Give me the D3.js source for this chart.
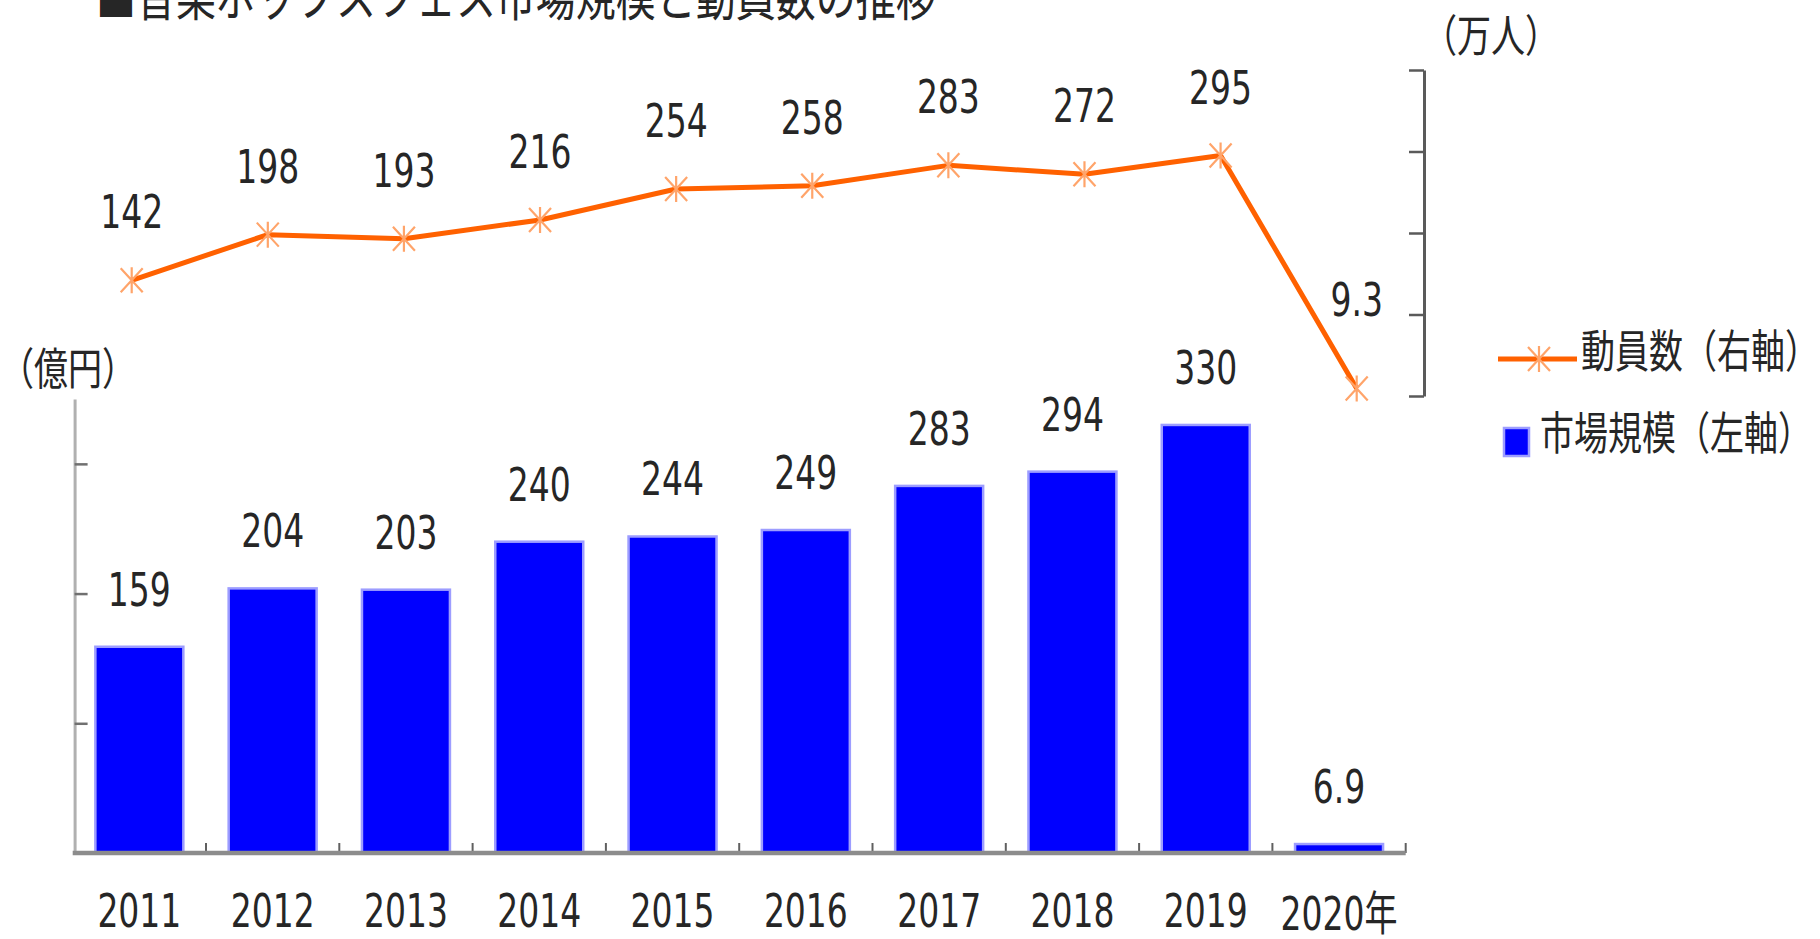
<!DOCTYPE html>
<html>
<head>
<meta charset="utf-8">
<script src="https://cdn.jsdelivr.net/npm/d3@7"></script>
<style>
  html, body { margin: 0; padding: 0; background: #fff; overflow: hidden; }
</style>
</head>
<body>
<div id="chart"></div>
<script>
// Dades
const years = ["2011", "2012", "2013", "2014", "2015", "2016", "2017", "2018", "2019", "2020年"];
const marketSize = [159, 204, 203, 240, 244, 249, 283, 294, 330, 6.9];   // 億円 (左軸)
const attendance = [142, 198, 193, 216, 254, 258, 283, 272, 295, 9.3];   // 万人 (右軸)
const leftTicks = [100, 200, 300];
const rightTicks = [0, 100, 200, 300, 400];

const W = 1820, H = 939;
const numFont = "'DejaVu Sans', 'Noto Sans CJK JP', sans-serif";
const cjkFont = "'Noto Sans CJK JP', sans-serif";
const textColor = "#262626";

const svg = d3.select("#chart")
    .append("svg")
        .attr("width", W)
        .attr("height", H);

// la imatge original està estirada verticalment
function label(x, y, txt, opts) {
    const o = Object.assign({ size: 33, sy: 1.4, anchor: "middle", font: numFont }, opts);
    return svg.append("text")
        .attr("transform", `translate(${x},${y}) scale(1,${o.sy})`)
        .attr("text-anchor", o.anchor)
        .style("font-family", o.font)
        .style("font-size", o.size + "px")
        .style("fill", textColor)
        .text(txt);
}

// Escales
const xBar = d3.scaleBand()
    .domain(years)
    .range([72.7, 1405.7])
    .paddingInner(0.34)
    .paddingOuter(0.17);

const xLine = d3.scalePoint()
    .domain(years)
    .range([131.7, 1356.7]);

const yLeft = d3.scaleLinear().domain([0, 350]).range([853, 399]);
const yRight = d3.scaleLinear().domain([0, 400]).range([396, 70]);

// Títol (retallat a dalt, com a l'original)
label(96, 16, "■音楽ポップスフェス市場規模と動員数の推移", { size: 40, sy: 1.3, anchor: "start", font: cjkFont });

// Barres
svg.selectAll(".bar")
    .data(years)
    .enter()
    .append("rect")
        .attr("class", "bar")
        .attr("x", d => xBar(d))
        .attr("y", (d, i) => yLeft(marketSize[i]))
        .attr("width", xBar.bandwidth())
        .attr("height", (d, i) => yLeft(0) - yLeft(marketSize[i]))
        .attr("fill", "#0000ff")
        .attr("stroke", "#9d9dff")
        .attr("stroke-width", 2.5);

// Eix esquerre
const leftAxis = svg.append("g")
    .attr("transform", "translate(74.6,0)")
    .call(d3.axisRight(yLeft).tickValues(leftTicks).tickSize(13).tickSizeOuter(0).tickFormat(""));
leftAxis.select(".domain").attr("stroke", "#b0b0b0").attr("stroke-width", 3);
leftAxis.selectAll(".tick line").attr("stroke", "#707070").attr("stroke-width", 2.5);

// Eix dret
const rightAxis = svg.append("g")
    .attr("transform", "translate(1424,0)")
    .call(d3.axisLeft(yRight).tickValues(rightTicks).tickSize(15).tickSizeOuter(0).tickFormat(""));
rightAxis.select(".domain").attr("stroke", "#5a5a5a").attr("stroke-width", 3);
rightAxis.selectAll(".tick line").attr("stroke", "#5a5a5a").attr("stroke-width", 2.5);

// Eix X (línia base i separadors)
const gap = (xBar.step() - xBar.bandwidth()) / 2;
const bounds = years.slice(1).map(d => xBar(d) - gap).concat([xBar(years[years.length - 1]) + xBar.bandwidth() + gap]);
svg.selectAll(".xtick")
    .data(bounds)
    .enter()
    .append("line")
        .attr("x1", d => d).attr("x2", d => d)
        .attr("y1", yLeft(0)).attr("y2", yLeft(0) - 10)
        .attr("stroke", "#606060")
        .attr("stroke-width", 2);
svg.append("line")
    .attr("x1", xBar.range()[0]).attr("x2", xBar.range()[1])
    .attr("y1", yLeft(0)).attr("y2", yLeft(0))
    .attr("stroke", "#8c8c8c")
    .attr("stroke-width", 4.5);

// Etiquetes de les barres
years.forEach((d, i) => {
    label(xBar(d) + xBar.bandwidth() / 2, yLeft(marketSize[i]) - 41, String(marketSize[i]));
});

// Etiquetes de l'eix X
years.forEach((d, i) => {
    const last = i === years.length - 1;
    label(xBar(d) + xBar.bandwidth() / 2, 927 + (last ? 3 : 0), d);
});

// Línia d'assistència
const line = d3.line()
    .x((d, i) => xLine(years[i]))
    .y(d => yRight(d));

svg.append("path")
    .datum(attendance)
    .attr("d", line)
    .attr("fill", "none")
    .attr("stroke", "#ff6100")
    .attr("stroke-width", 5)
    .attr("stroke-linejoin", "round");

const star = "M-11,-12L11,12M-11,12L11,-12M0,-13V13";
svg.selectAll(".marker")
    .data(attendance)
    .enter()
    .append("path")
        .attr("class", "marker")
        .attr("transform", (d, i) => `translate(${xLine(years[i])},${yRight(d)})`)
        .attr("d", star)
        .attr("fill", "none")
        .attr("stroke", "#ffa46a")
        .attr("stroke-width", 2.2);

attendance.forEach((v, i) => {
    const last = i === attendance.length - 1;
    label(xLine(years[i]), yRight(v) - 52 - (last ? 20 : 0), String(v));
});

// Unitats
label(1491, 52, "（万人）", { size: 34, sy: 1.3, font: cjkFont });
label(68, 385, "（億円）", { size: 34, sy: 1.3, font: cjkFont });

// Llegenda
svg.append("line")
    .attr("x1", 1498).attr("x2", 1577)
    .attr("y1", 359).attr("y2", 359)
    .attr("stroke", "#ff6100")
    .attr("stroke-width", 5);
svg.append("path")
    .attr("transform", "translate(1539,359)")
    .attr("d", star)
    .attr("fill", "none")
    .attr("stroke", "#ffa46a")
    .attr("stroke-width", 2.2);
label(1581, 368, "動員数（右軸）", { size: 34, sy: 1.33, anchor: "start", font: cjkFont });

svg.append("rect")
    .attr("x", 1504).attr("y", 428)
    .attr("width", 25).attr("height", 28)
    .attr("fill", "#0000ff")
    .attr("stroke", "#9d9dff")
    .attr("stroke-width", 2.5);
label(1540, 450, "市場規模（左軸）", { size: 34, sy: 1.33, anchor: "start", font: cjkFont });
</script>
</body>
</html>
